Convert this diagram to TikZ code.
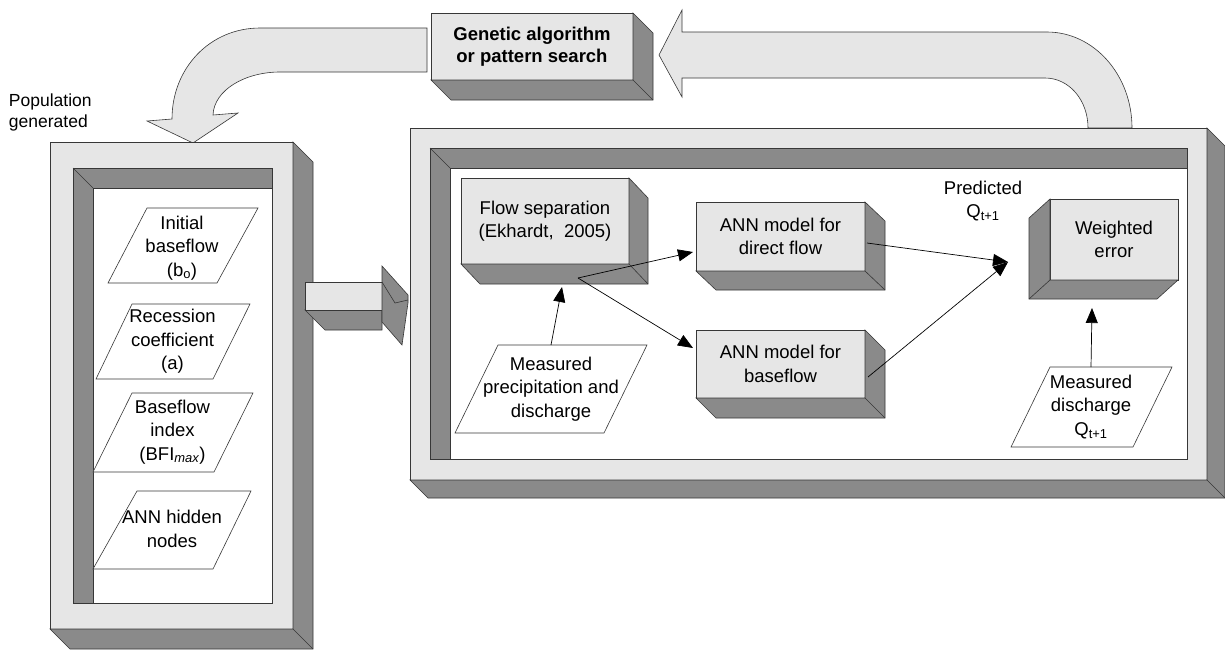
\documentclass[tikz,border=0pt]{standalone}
\usepackage{fontspec}
\setmainfont{Liberation Sans}
\usetikzlibrary{calc,arrows.meta}
\definecolor{lightface}{RGB}{230,230,230}
\definecolor{darkface}{RGB}{138,138,138}
\definecolor{edgecol}{RGB}{55,55,55}
\tikzset{
 face/.style={draw=edgecol, line width=0.6pt, fill=lightface, inner sep=0pt, outer sep=0pt, align=center, font=\fontsize{18.5}{23.5}\selectfont},
 dark/.style={draw=edgecol, line width=0.6pt, fill=darkface},
 txt/.style={inner sep=0pt, outer sep=0pt, align=center, font=\fontsize{18.5}{23.5}\selectfont},
 para/.style={draw=edgecol, line width=0.6pt, fill=white},
 arr/.style={draw=black, line width=0.7pt, -{Triangle[length=15pt,width=12pt]}},
 blockarrow/.style={draw=edgecol, line width=0.6pt, fill=lightface},
 edgeline/.style={draw=edgecol, line width=0.6pt},
}
% extrusion down-right
\newcommand\mkdepth[3]{%
 \filldraw[dark] (#1.north east) -- ++(#2,#3) -- ($(#1.south east)+(#2,#3)$) -- ($(#1.south west)+(#2,#3)$) -- (#1.south west) -- (#1.south east) -- cycle;
 \draw[edgeline] (#1.south east) -- ($(#1.south east)+(#2,#3)$);}
% extrusion down-left
\newcommand\mkdepthleft[3]{%
 \filldraw[dark] (#1.north west) -- ++(#2,#3) -- ($(#1.south west)+(#2,#3)$) -- ($(#1.south east)+(#2,#3)$) -- (#1.south east) -- (#1.south west) -- cycle;
 \draw[edgeline] (#1.south west) -- ($(#1.south west)+(#2,#3)$);}
\begin{document}
\begin{tikzpicture}[x=1pt,y=-1pt]
\useasboundingbox (0,0) rectangle (1225,651);

% ---- curved block arrows ----
\filldraw[blockarrow] (427,28) -- (260,28) .. controls (210,28) and (172,68) .. (172,119) -- (147,121) -- (193,143) -- (238,113) -- (213,115) .. controls (214,90) and (245,72) .. (280,72) -- (427,72) -- cycle;
\filldraw[blockarrow] (659,55) -- (682,10) -- (682,32) -- (1047,32) .. controls (1094,32) and (1132,75) .. (1132,128) -- (1088,128) .. controls (1088,100) and (1069,78) .. (1045,78) -- (682,78) -- (682,97) -- cycle;

% ---- genetic algorithm box ----
\node[face, font=\bfseries\fontsize{18.5}{22}\selectfont, minimum width=202, minimum height=67] (ga) at (532,46.5) {Genetic algorithm\\or pattern search};
\mkdepth{ga}{20}{20}

% ---- left frame ----
\node[face, minimum width=243, minimum height=487] (lf) at (171.5,385.5) {};
\mkdepth{lf}{20}{20}
\filldraw[edgeline, fill=white] (73,168) rectangle (272,603);
\filldraw[dark] (73,168) -- (272,168) -- (272,188) -- (93,188) -- (93,603) -- (73,603) -- cycle;
\draw[edgeline] (73,168) -- (93,188);

% ---- right frame ----
\node[face, minimum width=797, minimum height=352] (rf) at (808.5,304) {};
\mkdepth{rf}{18}{18}
\filldraw[edgeline, fill=white] (430,148) rectangle (1187,459);
\filldraw[dark] (430,148) -- (1187,148) -- (1187,168) -- (450,168) -- (450,459) -- (430,459) -- cycle;
\draw[edgeline] (430,148) -- (450,168);

% ---- block arrow between frames ----
\filldraw[dark] (305,310) -- (325,330) -- (382,330) -- (382,310) -- cycle;
\filldraw[blockarrow] (305,282) rectangle (382,310);
\filldraw[dark] (382,266) -- (408,295) -- (408,303) -- (402,345) -- (382,322) -- cycle;
\draw[edgeline] (382,282) -- (395,303) -- (408,300);

% ---- label ----
\node[txt, anchor=west, align=left, font=\fontsize{17.5}{21}\selectfont] (pop) at (9,112) {Population\\generated};

% ---- left parameters ----
\filldraw[para] (147,208) -- (258,208) -- (217,283) -- (108,283) -- cycle;
\node[txt] (ib) at (182,248) {Initial\\baseflow\\(b\textsubscript{o})};
\filldraw[para] (132,304) -- (250,304) -- (213,379) -- (96,379) -- cycle;
\node[txt] (rc) at (172.5,341.5) {Recession\\coefficient\\(a)};
\filldraw[para] (132,393) -- (253,393) -- (214,472) -- (93,472) -- cycle;
\node[txt] (bi) at (172.5,432) {Baseflow\\index\\(BFI\textsubscript{\itshape max})};
\filldraw[para] (137,491) -- (251,491) -- (213,569) -- (93,569) -- cycle;
\node[txt] (an) at (172,529) {ANN hidden\\nodes};

% ---- right panel contents ----
\filldraw[para] (498,345) -- (647,345) -- (604,433) -- (455,433) -- cycle;
\node[txt, minimum height=88] (mp) at (551,389) {Measured\\precipitation and\\discharge};
\filldraw[para] (1050,367) -- (1172,367) -- (1133,447) -- (1011,447) -- cycle;
\node[txt, minimum height=80] (md) at (1091,407) {Measured\\discharge\\Q\textsubscript{t+1}};

\node[face, minimum width=168, minimum height=86] (fs) at (545,221) {Flow separation\\(Ekhardt,\ \ 2005)};
\mkdepth{fs}{19}{20}
\node[face, minimum width=169, minimum height=69] (df) at (780.5,236.5) {ANN model for\\direct flow};
\mkdepth{df}{20}{19}
\node[face, minimum width=169, minimum height=68] (bf) at (780.5,364) {ANN model for\\baseflow};
\mkdepth{bf}{20}{20}
\node[face, minimum width=128, minimum height=81] (we) at (1114,239.5) {Weighted\\error};
\mkdepthleft{we}{-21}{19}
\node[txt] (pred) at (983,201) {Predicted\\Q\textsubscript{t+1}};

% ---- connectors ----
\coordinate (fsin) at ($(fs.south)+(17,23)$);
\coordinate (fsout) at ($(fs.south)+(33,14)$);
\coordinate (dfin) at ($(df.west)+(-3,15.5)$);
\coordinate (bfin) at ($(bf.west)+(-3,-16)$);
\coordinate (dfout) at ($(df.east)+(2,6.5)$);
\coordinate (bfout) at ($(bf.east)+(3,13)$);
\coordinate (pq) at (1008,262);
\coordinate (wein) at ($(we.south)+(-22,28)$);
\draw[arr] (mp.north) -- (fsin);
\draw[arr] (fsout) -- (dfin);
\draw[arr] (fsout) -- (bfin);
\draw[arr] (dfout) -- (pq);
\draw[arr] (bfout) -- (pq);
\draw[arr] (md.north) -- (wein);
\end{tikzpicture}
\end{document}
